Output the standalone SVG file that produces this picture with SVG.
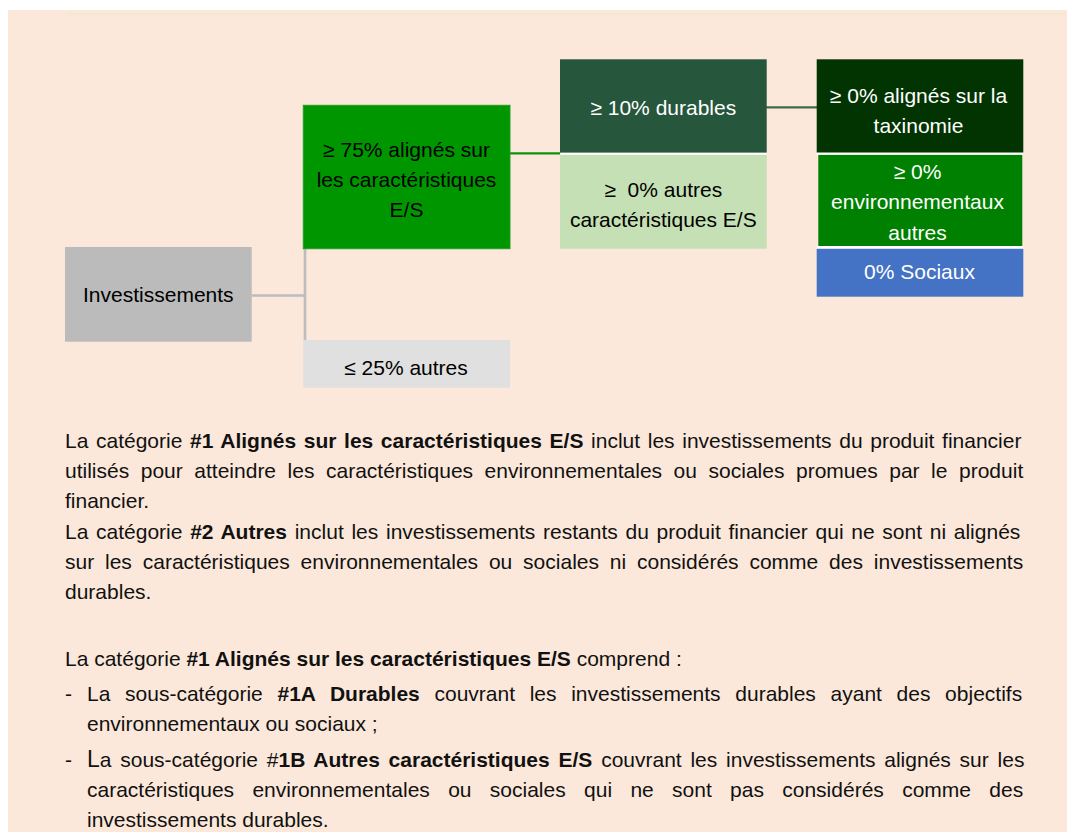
<svg xmlns="http://www.w3.org/2000/svg" width="1067" height="832" viewBox="0 0 1067 832">
<style>
text{font-family:"Liberation Sans",Arial,Helvetica,sans-serif;font-size:21px;}
.dk{fill:#000;}
.wt{fill:#fff;}
.mid{text-anchor:middle;}
.b{font-weight:bold;}
.body{fill:#111;}
</style>
<rect x="0" y="0" width="1067" height="832" fill="#fff"/>
<rect x="8" y="10" width="1059" height="822" fill="#FBE8DA"/>
<line x1="66" y1="13.5" x2="1067" y2="13.5" stroke="#F5E6CE" stroke-width="2"/>

<g id="connectors" fill="none">
<polyline points="251.5,295.5 305,295.5" stroke="#BDBDBD" stroke-width="2.7"/>
<line x1="305" y1="248" x2="305" y2="341" stroke="#BDBDBD" stroke-width="2.7"/>
<line x1="509" y1="153.3" x2="561" y2="153.3" stroke="#0A960A" stroke-width="2.2"/>
<line x1="766" y1="107.3" x2="818" y2="107.3" stroke="#3F6A4C" stroke-width="2.2"/>
</g>

<g id="n-investissements">
<rect x="65" y="247" width="186.7" height="94.7" fill="#BBBBBB"/>
<text class="dk mid" x="158.3" y="302">Investissements</text>
</g>

<g id="n-aligned">
<rect x="303.3" y="105.3" width="206.7" height="143.4" fill="#009600" stroke="#1FA01F" stroke-width="1"/>
<text class="dk mid" x="406.5" y="157">≥ 75% alignés sur</text>
<text class="dk mid" x="406.5" y="187">les caractéristiques</text>
<text class="dk mid" x="406.5" y="217">E/S</text>
</g>

<g id="n-autres">
<rect x="303.3" y="340" width="206.7" height="47.7" fill="#E0E0E0"/>
<text class="dk mid" x="406" y="375">≤ 25% autres</text>
</g>

<g id="separators" fill="#FFFFFF">
<rect x="560" y="152.5" width="206.7" height="2.4"/>
<rect x="816.7" y="152.5" width="206.6" height="2.4"/>
<rect x="816.7" y="246" width="206.6" height="2.8"/>
</g>

<g id="n-durables">
<rect x="560" y="59.3" width="206.7" height="93.3" fill="#26563C"/>
<text class="wt mid" x="663.3" y="115">≥ 10% durables</text>
</g>

<g id="n-autres-es">
<rect x="560" y="154.8" width="206.7" height="93.9" fill="#C5E0B4"/>
<text class="dk mid" x="663.3" y="196.7" xml:space="preserve">≥  0% autres</text>
<text class="dk mid" x="663.3" y="226.7">caractéristiques E/S</text>
</g>

<g id="n-taxinomie">
<rect x="816.7" y="59.3" width="206.6" height="93.2" fill="#023402"/>
<text class="wt mid" x="918.5" y="103.3">≥ 0% alignés sur la</text>
<text class="wt mid" x="918.5" y="133.3">taxinomie</text>
</g>

<g id="n-environnementaux">
<rect x="818.3" y="154.9" width="204" height="91.1" fill="#008000"/>
<text class="wt mid" x="917.5" y="179.3">≥ 0%</text>
<text class="wt mid" x="917.5" y="209.3">environnementaux</text>
<text class="wt mid" x="917.5" y="240">autres</text>
</g>

<g id="n-sociaux">
<rect x="816.7" y="248.8" width="206.6" height="47.9" fill="#4472C4"/>
<text class="wt mid" x="919.5" y="279.3">0% Sociaux</text>
</g>

<g id="description">
<text class="body" x="65" y="448" word-spacing="1.8">La catégorie <tspan class="b">#1 Alignés sur les caractéristiques E/S</tspan> inclut les investissements du produit financier</text>
<text class="body" x="65" y="478" word-spacing="5.72">utilisés pour atteindre les caractéristiques environnementales ou sociales promues par le produit</text>
<text class="body" x="65" y="508">financier.</text>
<text class="body" x="65" y="539" word-spacing="1.87">La catégorie <tspan class="b">#2 Autres</tspan> inclut les investissements restants du produit financier qui ne sont ni alignés</text>
<text class="body" x="65" y="569" word-spacing="5.01">sur les caractéristiques environnementales ou sociales ni considérés comme des investissements</text>
<text class="body" x="65" y="599">durables.</text>
<text class="body" x="65" y="666">La catégorie <tspan class="b">#1 Alignés sur les caractéristiques E/S</tspan> comprend :</text>
<text class="body" x="65" y="701">-</text>
<text class="body" x="87" y="701" word-spacing="8.85">La sous-catégorie <tspan class="b">#1A Durables</tspan> couvrant les investissements durables ayant des objectifs</text>
<text class="body" x="87" y="731">environnementaux ou sociaux ;</text>
<text class="body" x="65" y="767">-</text>
<text class="body" x="87" y="767" word-spacing="2.95"><tspan font-size="23">L</tspan>a sous-catégorie #<tspan class="b">1B Autres caractéristiques E/S</tspan> couvrant les investissements alignés sur les</text>
<text class="body" x="87" y="797" word-spacing="12.49">caractéristiques environnementales ou sociales qui ne sont pas considérés comme des</text>
<text class="body" x="87" y="827">investissements durables.</text>
</g>
</svg>
